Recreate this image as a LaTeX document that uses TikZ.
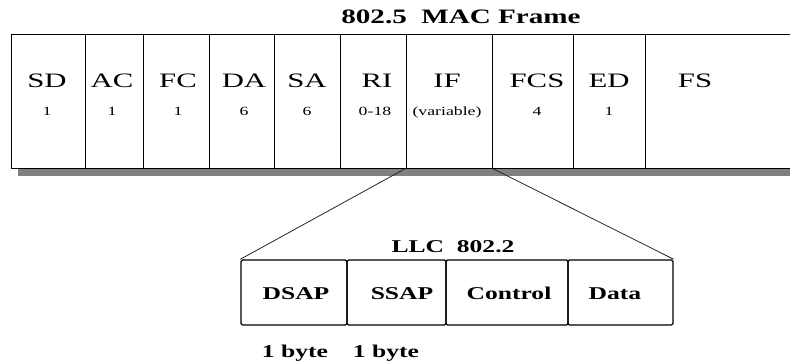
\documentclass[tikz,border=0pt]{standalone}
\usepackage{fontspec}
\setmainfont{Liberation Serif}
\newcommand\mywide[1]{\scalebox{1.42}[1]{#1}}
\newcommand\mywider[1]{\scalebox{1.5}[1]{#1}}
\tikzset{
  cell/.style={draw=black, line width=0.9pt, inner sep=0pt, minimum height=134pt},
  llccell/.style={draw=black, line width=1.4pt, inner sep=0pt, minimum height=65pt, rounded corners=1.5pt},
  fieldname/.style={anchor=base, inner sep=0pt, font=\fontsize{20.5}{20.5}\selectfont},
  fieldsize/.style={anchor=base, inner sep=0pt, font=\fontsize{12.5}{12.5}\selectfont},
  heading/.style={anchor=base, inner sep=0pt, font=\fontsize{20.5}{20.5}\selectfont\bfseries},
  llcname/.style={anchor=base, inner sep=0pt, font=\fontsize{18}{18}\selectfont\bfseries},
  link/.style={draw=black!85, line width=0.8pt}
}
\begin{document}
\begin{tikzpicture}[x=1pt,y=-1pt]
\useasboundingbox (0,0) rectangle (790,363);
\clip (0,0) rectangle (790,363);
% shadow under the MAC frame
\fill[black!50] (18,168) rectangle (792,176);
% MAC frame cells
\node[cell, minimum width=74pt] (sd) at (48,101) {};
\node[cell, minimum width=58pt] (ac) at (114,101) {};
\node[cell, minimum width=66pt] (fc) at (176,101) {};
\node[cell, minimum width=65pt] (da) at (241.5,101) {};
\node[cell, minimum width=66pt] (sa) at (307,101) {};
\node[cell, minimum width=66pt] (ri) at (373,101) {};
\node[cell, minimum width=86pt] (if) at (449,101) {};
\node[cell, minimum width=81pt] (fcs) at (532.5,101) {};
\node[cell, minimum width=72pt] (ed) at (609,101) {};
\node[cell, minimum width=148pt] (fs) at (719,101) {};
% frame title
\node[heading] (title) at (461,23.5) {\mywide{802.5\ \ MAC Frame}};
% field names
\node[fieldname] (sdn) at (47,88) {\mywider{SD}};
\node[fieldname] (acn) at (112,88) {\mywider{AC}};
\node[fieldname] (fcn) at (178,88) {\mywider{FC}};
\node[fieldname] (dan) at (244,88) {\mywider{DA}};
\node[fieldname] (san) at (307,88) {\mywider{SA}};
\node[fieldname] (rin) at (377,88) {\mywider{RI}};
\node[fieldname] (ifn) at (447,88) {\mywider{IF}};
\node[fieldname] (fcsn) at (537,88) {\mywider{FCS}};
\node[fieldname] (edn) at (609,88) {\mywider{ED}};
\node[fieldname] (fsn) at (695,88) {\mywider{FS}};
% field sizes
\node[fieldsize] (sds) at (47,116) {\mywide{1}};
\node[fieldsize] (acs) at (112,116) {\mywide{1}};
\node[fieldsize] (fcs-s) at (178,116) {\mywide{1}};
\node[fieldsize] (das) at (244,116) {\mywide{6}};
\node[fieldsize] (sas) at (307,116) {\mywide{6}};
\node[fieldsize] (ris) at (375,116) {\mywide{0-18}};
\node[fieldsize] (ifs) at (447,116) {\mywide{(variable)}};
\node[fieldsize] (fcss) at (537,116) {\mywide{4}};
\node[fieldsize] (eds) at (609,116) {\mywide{1}};
% LLC cells
\node[llccell, minimum width=106pt] (dsap) at (294,292.5) {};
\node[llccell, minimum width=99pt] (ssap) at (396.5,292.5) {};
\node[llccell, minimum width=122pt] (ctrl) at (507,292.5) {};
\node[llccell, minimum width=105pt] (data) at (620.5,292.5) {};
\node[llcname] (llctitle) at (453,253) {\mywide{LLC\ \ 802.2}};
\node[llcname] (dsapn) at (296,300) {\mywide{DSAP}};
\node[llcname] (ssapn) at (402,300) {\mywide{SSAP}};
\node[llcname] (ctrln) at (509,300) {\mywide{Control}};
\node[llcname] (datan) at (615,300) {\mywide{Data}};
\node[llcname] (b1) at (295,357) {\mywide{1 byte}};
\node[llcname] (b2) at (386,357) {\mywide{1 byte}};
% expansion of the IF field
\draw[link] (if.south west) -- (dsap.north west);
\draw[link] (if.south east) -- (data.north east);
\end{tikzpicture}
\end{document}
